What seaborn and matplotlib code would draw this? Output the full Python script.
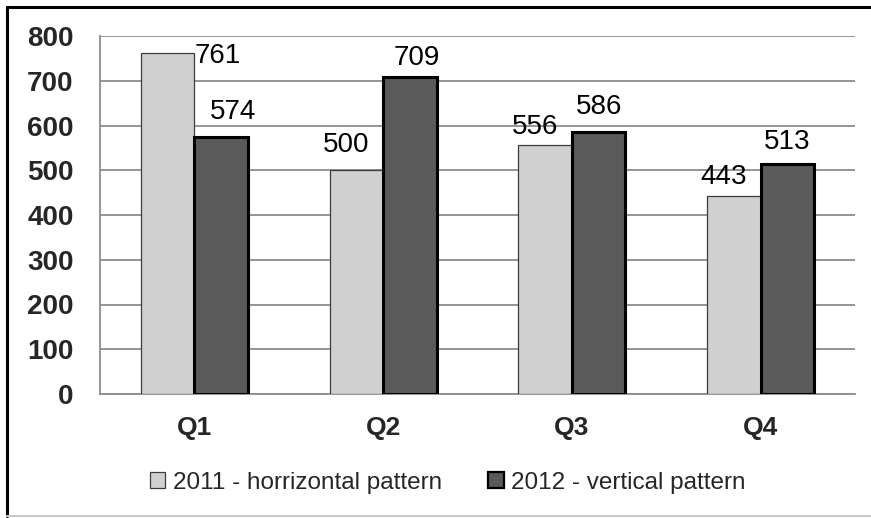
import matplotlib
matplotlib.use("Agg")
import matplotlib.pyplot as plt
import matplotlib.patches as mpatches
from matplotlib.lines import Line2D
import seaborn as sns
import pandas as pd

# data
quarters = ["Q1", "Q2", "Q3", "Q4"]
series_names = ["2011 - horrizontal pattern", "2012 - vertical pattern"]
values_2011 = [761, 500, 556, 443]
values_2012 = [574, 709, 586, 513]

# label nudges in pixels (Excel moved some labels to avoid overlaps)
nudge_x = [[50, -10, -10, -10], [12, 7, 0, 0]]
nudge_y = [[-28, 0, -7, -6], [0, -6, 0, -3]]

df = pd.DataFrame({
    "quarter": quarters * 2,
    "series": [series_names[0]] * 4 + [series_names[1]] * 4,
    "value": values_2011 + values_2012,
})

sns.set_style("white")
plt.rcParams["font.family"] = ["Liberation Sans", "DejaVu Sans"]

fill_cols = ["#D0D0D0", "#5A5A5A"]
edge_cols = ["#3C3C3C", "#000000"]
edge_w = [0.9, 2.2]
grid_col = "#8C8C8C"

fig = plt.figure(figsize=(8.71, 5.18), dpi=100)
ax = fig.add_axes([100 / 871, 124 / 518, 755 / 871, 358 / 518])

sns.barplot(data=df, x="quarter", y="value", hue="series", order=quarters,
            hue_order=series_names, palette=fill_cols, width=0.567,
            saturation=1, ax=ax, legend=False)

for i, cont in enumerate(ax.containers):
    for j, bar in enumerate(cont):
        bar.set_edgecolor(edge_cols[i])
        bar.set_linewidth(edge_w[i])
        bar.set_zorder(3)
        val = [values_2011, values_2012][i][j]
        ax.annotate(str(val), (bar.get_x() + bar.get_width() / 2, bar.get_height()),
                    xytext=(nudge_x[i][j], 25 + nudge_y[i][j]), textcoords="offset pixels",
                    ha="center", va="center", fontsize=20, color="black", zorder=4)

ax.set_xlim(-0.5, len(quarters) - 0.5)
ax.set_ylim(0, 800)
ax.set_yticks(range(0, 801, 100))
ax.yaxis.grid(True, color=grid_col, linewidth=1.3, zorder=0)
ax.set_axisbelow(True)
ax.set_xlabel("")
ax.set_ylabel("")

for side in ["top", "right"]:
    ax.spines[side].set_visible(False)
for side in ["left", "bottom"]:
    ax.spines[side].set_color(grid_col)
    ax.spines[side].set_linewidth(1.3)

ax.tick_params(axis="y", length=7, width=1.3, color=grid_col, pad=12,
               labelsize=20)
ax.tick_params(axis="x", which="major", length=0, pad=16, labelsize=19)
ax.set_xticks([k - 0.5 for k in range(len(quarters) + 1)], minor=True)
ax.tick_params(axis="x", which="minor", length=7, width=1.3, color=grid_col)
for lab in ax.get_xticklabels() + ax.get_yticklabels():
    lab.set_fontweight("bold")

handles = [mpatches.Patch(facecolor=fill_cols[i], edgecolor=edge_cols[i],
                          linewidth=[0.9, 1.6][i]) for i in range(2)]
fig.legend(handles, series_names, loc="center", bbox_to_anchor=(0.514, 0.068),
           ncol=2, frameon=False, fontsize=17.5, handlelength=0.65,
           handleheight=0.65, handletextpad=0.3, columnspacing=1.9)

# chart-area frame like the Excel screenshot
fig.add_artist(Line2D([7 / 871, 7 / 871], [0.003, 1 - 7 / 518], color="black",
                      linewidth=2.2, transform=fig.transFigure))
fig.add_artist(Line2D([7 / 871, 1], [1 - 7 / 518, 1 - 7 / 518], color="black",
                      linewidth=2.2, transform=fig.transFigure))
fig.add_artist(Line2D([7 / 871, 1], [2 / 518, 2 / 518], color="#C8C8C8",
                      linewidth=1.5, transform=fig.transFigure))

fig.savefig("out.png", dpi=100)
